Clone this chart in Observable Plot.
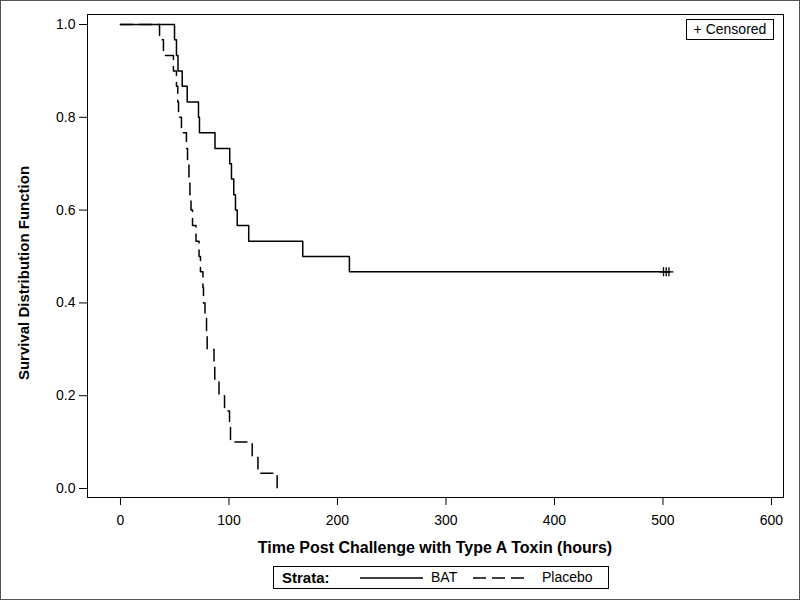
<!DOCTYPE html>
<html>
<head>
<meta charset="utf-8">
<script src="https://cdn.jsdelivr.net/npm/d3@7"></script>
<script src="https://cdn.jsdelivr.net/npm/@observablehq/plot@0.6"></script>
<style>
  body { margin: 0; background: #fff; }
  #wrap { position: relative; width: 800px; height: 600px; font-family: "Liberation Sans", Arial, sans-serif; color: #000; background: #fff; }
  #wrap svg { display: block; }
  .outer { position: absolute; left: 0; top: 0; width: 800px; height: 600px; border: 1px solid #555; box-sizing: border-box; pointer-events: none; }
  .xtitle { position: absolute; left: 87px; width: 696px; top: 539px; text-align: center; font-weight: bold; font-size: 16px; line-height: 18px; white-space: nowrap; }
  .ytitle { position: absolute; left: 24px; top: 273px; transform: translate(-50%, -50%) rotate(-90deg); font-weight: bold; font-size: 15px; line-height: 18px; white-space: nowrap; }
  .cens { position: absolute; left: 686px; top: 19px; width: 88px; height: 21px; border: 1px solid #000; box-sizing: border-box; font-size: 14px; line-height: 19px; text-align: center; white-space: nowrap; background: #fff; }
  .strata { position: absolute; left: 273px; top: 566px; width: 336px; height: 23px; border: 1px solid #000; box-sizing: border-box; font-size: 14px; white-space: nowrap; }
  .strata .it { position: absolute; top: 0; line-height: 21px; }
  .strata .hd { font-weight: bold; font-size: 15px; }
</style>
</head>
<body>
<div id="wrap"></div>
<script>
// ---- Data ----
const strataNames = ["BAT", "Placebo"];

// BAT: Kaplan-Meier step curve (time in hours, survival)
const batTimes = [0, 49.8, 51.6, 53.0, 56.9, 61.5, 71.9, 72.8, 87.1, 100.7, 102.3, 104.4, 106.0, 107.6, 118.2, 168.0, 211.0, 505.5];
const batSurv  = [1.0, 0.967, 0.933, 0.900, 0.867, 0.833, 0.800, 0.767, 0.733, 0.700, 0.667, 0.633, 0.600, 0.567, 0.533, 0.500, 0.467, 0.467];

// BAT censored observations
const batCensorTimes = [500.5, 503.0, 505.5];
const batCensorSurv  = [0.467, 0.467, 0.467];

// Placebo: Kaplan-Meier step curve
const placeboTimes = [0, 36.0, 39.6, 48.8, 51.6, 52.8, 53.5, 56.2, 60.8, 61.8, 63.1, 64.0, 65.0, 66.4, 69.6, 72.4, 73.7, 76.0, 76.5, 77.9, 79.3, 79.9, 86.2, 86.9, 90.8, 95.9, 100.5, 101.4, 121.4, 126.7, 144.4];
const placeboSurv  = [1.0, 0.967, 0.933, 0.900, 0.867, 0.833, 0.800, 0.767, 0.733, 0.700, 0.667, 0.633, 0.600, 0.567, 0.533, 0.500, 0.467, 0.433, 0.400, 0.367, 0.333, 0.300, 0.267, 0.233, 0.200, 0.167, 0.133, 0.100, 0.067, 0.033, 0.000];

// Axis ticks and labels
const xTicks = [0, 100, 200, 300, 400, 500, 600];
const yTicks = [0.0, 0.2, 0.4, 0.6, 0.8, 1.0];
const xTitle = "Time Post Challenge with Type A Toxin (hours)";
const yTitle = "Survival Distribution Function";
const censorLabel = "+ Censored";
const strataLabel = "Strata:";

// ---- Build tables ----
const bat = batTimes.map((t, i) => ({time: t, surv: batSurv[i], strata: strataNames[0]}));
const placebo = placeboTimes.map((t, i) => ({time: t, surv: placeboSurv[i], strata: strataNames[1]}));
const censored = batCensorTimes.map((t, i) => ({time: t, surv: batCensorSurv[i], strata: strataNames[0]}));

const plot = Plot.plot({
  width: 800,
  height: 600,
  marginLeft: 87,
  marginRight: 17,
  marginTop: 14,
  marginBottom: 103,
  style: {fontFamily: '"Liberation Sans", Arial, sans-serif', fontSize: "14px", color: "#000", background: "transparent"},
  x: {domain: [-30.4, 611.1], ticks: xTicks, tickSize: 8, tickPadding: 10, tickFormat: d => String(d), label: null},
  y: {domain: [-0.0194, 1.0216], ticks: yTicks, tickSize: 8, tickPadding: 4, tickFormat: d3.format(".1f"), label: null},
  marks: [
    Plot.frame({stroke: "#000", strokeWidth: 1}),
    Plot.line(bat, {x: "time", y: "surv", curve: "step-after", stroke: "#000", strokeWidth: 1.5}),
    Plot.line(placebo, {x: "time", y: "surv", curve: "step-after", stroke: "#000", strokeWidth: 1.5, strokeDasharray: "12,7"}),
    Plot.dot(censored, {x: "time", y: "surv", symbol: "plus", r: 3, stroke: "#000", strokeWidth: 1.3})
  ]
});

const wrap = document.getElementById("wrap");
wrap.appendChild(plot);

function add(cls, text) {
  const d = document.createElement("div");
  d.className = cls;
  if (text != null) d.textContent = text;
  wrap.appendChild(d);
  return d;
}
add("xtitle", xTitle);
add("ytitle", yTitle);
add("cens", censorLabel);

const lg = add("strata");
function item(left, html, cls) {
  const s = document.createElement("div");
  s.className = "it" + (cls ? " " + cls : "");
  s.style.left = left + "px";
  s.innerHTML = html;
  lg.appendChild(s);
}
item(8, strataLabel, "hd");
item(86, '<svg width="63" height="21"><line x1="0" x2="63" y1="11" y2="11" stroke="#000" stroke-width="1.5"/></svg>');
item(157, strataNames[0]);
item(199, '<svg width="51" height="21"><line x1="0" x2="51" y1="11" y2="11" stroke="#000" stroke-width="1.5" stroke-dasharray="13,6"/></svg>');
item(268, strataNames[1]);

add("outer");
</script>
</body>
</html>
